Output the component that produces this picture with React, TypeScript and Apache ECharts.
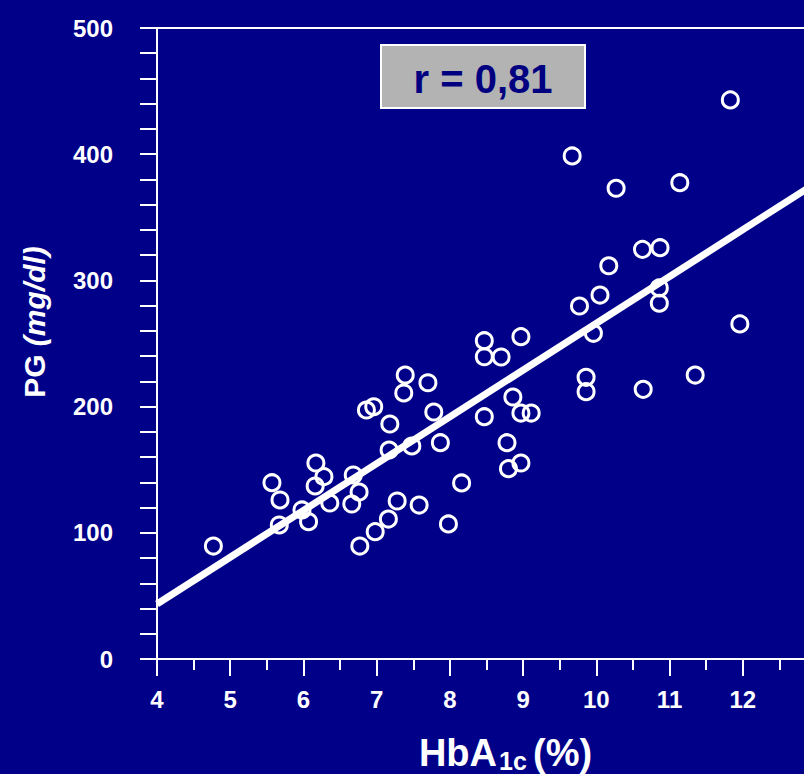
import React, { useEffect, useRef } from "react";
import * as echarts from "echarts";

// HbA1c (%) values of each patient
const hba1c = [
  4.77, 5.57, 5.68, 5.67, 5.98, 6.07, 6.17, 6.16, 6.28, 6.36,
  6.68, 6.66, 6.76, 6.77, 6.86, 6.96, 6.98, 7.18, 7.17, 7.16,
  7.28, 7.39, 7.37, 7.48, 7.58, 7.70, 7.78, 7.87, 7.98, 8.16,
  8.47, 8.47, 8.47, 8.70, 8.78, 8.80, 8.86, 8.97, 8.97, 8.97,
  9.11, 9.67, 9.77, 9.86, 9.86, 9.96, 10.05, 10.17, 10.27, 10.63,
  10.64, 10.86, 10.87, 10.86, 11.14, 11.35, 11.83, 11.96,
];
// PG (mg/dl) values of each patient
const pg = [
  89.5, 139.7, 126, 106.2, 118.1, 108.8, 155.3, 137.1, 144.5, 123.6,
  145.8, 122.8, 132.3, 89.5, 197.3, 199.9, 100.9, 186.2, 165.6, 110.9,
  125.2, 225, 210.8, 168.8, 122, 218.9, 195.7, 171.4, 107, 139.5,
  252.2, 239.5, 192, 239.3, 171.4, 150.8, 207.6, 255.4, 194.9, 155.3,
  194.9, 398.6, 279.7, 223.2, 211.8, 258.1, 288.4, 311.6, 373, 324.6,
  213.7, 294, 325.9, 281.9, 377.4, 225, 443, 265.5,
];
// regression line end points
const fitX = [4, 13];
const fitY = [43.6, 377.2];
const rLabel = "r = 0,81";
// x tick labels shown (the 13 tick lies beyond the picture's right edge)
const xLabelsShown = [4, 5, 6, 7, 8, 9, 10, 11, 12];

const FONT = "'Liberation Sans', Arial, Helvetica, sans-serif";

export default function App() {
  const ref = useRef<HTMLDivElement>(null);
  useEffect(() => {
    document.body.style.margin = "0";
    const chart = echarts.init(ref.current!, null, { renderer: "svg" });
    const white = "#ffffff";
    chart.setOption({
      animation: false,
      backgroundColor: "#000088",
      grid: {
        left: 157,
        top: 28,
        width: 659,
        height: 631,
        show: true,
        borderColor: white,
        borderWidth: 2,
        backgroundColor: "transparent",
        outerBoundsMode: "none",
      },
      xAxis: {
        type: "value",
        min: 4,
        max: 13,
        interval: 1,
        axisLine: { lineStyle: { color: white, width: 2 } },
        axisTick: { length: 17, lineStyle: { color: white, width: 2 } },
        minorTick: { show: true, splitNumber: 2, length: 11, lineStyle: { color: white, width: 2 } },
        splitLine: { show: false },
        axisLabel: {
          color: white,
          fontSize: 24,
          fontWeight: "bold",
          fontFamily: FONT,
          margin: 28,
          formatter: (v: number) => (xLabelsShown.includes(v) ? String(v) : ""),
        },
      },
      yAxis: {
        type: "value",
        min: 0,
        max: 500,
        interval: 100,
        axisLine: { lineStyle: { color: white, width: 2 } },
        axisTick: { length: 17, lineStyle: { color: white, width: 2 } },
        minorTick: { show: true, splitNumber: 5, length: 17, lineStyle: { color: white, width: 2 } },
        splitLine: { show: false },
        axisLabel: {
          color: white,
          fontSize: 24,
          fontWeight: "bold",
          fontFamily: FONT,
          margin: 44,
          padding: [0, 0, 8, 0],
        },
      },
      series: [
        {
          type: "scatter",
          data: hba1c.map((x, i) => [x, pg[i]]),
          symbol: "circle",
          symbolSize: 16,
          itemStyle: { color: "rgba(0,0,0,0)", borderColor: white, borderWidth: 3, opacity: 1 },
          z: 2,
        },
        {
          type: "line",
          data: fitX.map((x, i) => [x, fitY[i]]),
          symbol: "none",
          showSymbol: false,
          lineStyle: { color: white, width: 7 },
          z: 3,
        },
      ],
      graphic: [
        {
          type: "rect",
          shape: { x: 381, y: 45, width: 204, height: 63 },
          style: { fill: "#b3b3b3", stroke: white, lineWidth: 2 },
          z: 10,
        },
        {
          type: "text",
          x: 483,
          y: 79,
          z: 11,
          style: {
            text: rLabel,
            fill: "#000080",
            fontSize: 40,
            fontWeight: "bold",
            fontFamily: FONT,
            align: "center",
            verticalAlign: "middle",
          },
        },
        {
          type: "text",
          x: 34,
          y: 322,
          rotation: Math.PI / 2,
          style: {
            text: "{a|PG}{b| (mg/dl)}",
            align: "center",
            verticalAlign: "middle",
            rich: {
              a: { fontSize: 30, fontWeight: "bold", fontFamily: FONT, fill: white, color: white },
              b: { fontSize: 30, fontWeight: "bold", fontStyle: "italic", fontFamily: FONT, fill: white, color: white },
            },
          },
        },
        {
          type: "text",
          x: 497,
          y: 753,
          style: {
            text: "HbA",
            fill: white,
            fontSize: 38,
            fontWeight: "bold",
            fontFamily: FONT,
            align: "right",
            verticalAlign: "middle",
          },
        },
        {
          type: "text",
          x: 499,
          y: 761,
          style: {
            text: "1c",
            fill: white,
            fontSize: 25,
            fontWeight: "bold",
            fontFamily: FONT,
            align: "left",
            verticalAlign: "middle",
          },
        },
        {
          type: "text",
          x: 533,
          y: 753,
          style: {
            text: "(%)",
            fill: white,
            fontSize: 38,
            fontWeight: "bold",
            fontFamily: FONT,
            align: "left",
            verticalAlign: "middle",
          },
        },
      ],
    });
    return () => chart.dispose();
  }, []);
  return (
    <div
      ref={ref}
      style={{ position: "absolute", left: 0, top: 0, width: 804, height: 774 }}
    />
  );
}
